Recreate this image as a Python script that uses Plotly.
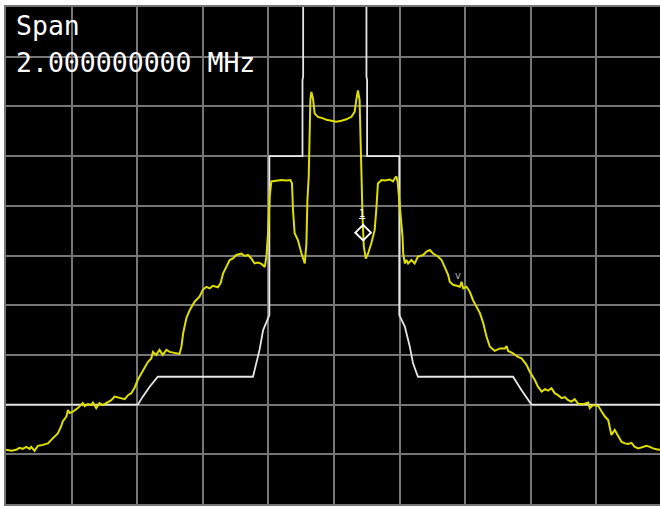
import plotly.graph_objects as go

# Frequency offset from centre (kHz), span 2 MHz -> 200 kHz/div
freq_khz = [-1000, -984, -969, -959, -949, -938, -928, -923, -913, -903, -893, -882, -872, -862, -852, -842,
            -832, -827, -816, -811, -806, -796, -781, -766, -760, -750, -740, -735, -725, -715, -705, -694,
            -679, -669, -654, -638, -628, -618, -608, -598, -587, -577, -567, -557, -552, -542, -532, -522,
            -511, -501, -486, -471, -465, -460, -450, -440, -425, -410, -400, -389, -379, -369, -354, -346,
            -338, -328, -318, -308, -298, -282, -272, -262, -252, -242, -232, -221, -211, -206, -201, -196,
            -191, -171, -160, -145, -133, -128, -125, -120, -110, -99, -89, -84, -81, -77, -74, -72,
            -69, -64, -59, -49, -33, -23, -8, 7, 23, 38, 53, 63, 68, 73, 78, 81,
            84, 87, 91, 97, 104, 114, 124, 129, 134, 145, 155, 170, 180, 185, 190, 194,
            198, 203, 209, 211, 216, 221, 226, 236, 246, 256, 272, 282, 292, 302, 317, 328,
            338, 348, 353, 363, 374, 384, 389, 394, 404, 414, 424, 436, 445, 455, 465, 475,
            490, 506, 521, 526, 531, 546, 561, 572, 587, 597, 612, 622, 633, 643, 653, 663,
            673, 683, 694, 704, 714, 724, 734, 745, 760, 775, 780, 790, 806, 816, 826, 836,
            846, 856, 867, 877, 887, 897, 907, 917, 928, 943, 953, 963, 973, 989, 1000]
level_db = [-89.1, -89.3, -89.1, -88.7, -88.9, -88.5, -88.9, -88.5, -89.3, -88.3, -88.2, -88.0, -87.8, -87.1, -86.5, -85.8,
            -84.4, -83.4, -82.4, -81.1, -81.7, -81.4, -80.7, -79.7, -80.3, -79.9, -80.1, -79.6, -80.7, -79.7, -80.1, -79.7,
            -79.1, -78.4, -78.7, -78.9, -78.1, -77.7, -76.6, -75.0, -73.7, -72.4, -71.4, -70.7, -69.4, -70.0, -69.0, -70.0,
            -69.0, -69.4, -69.6, -69.8, -68.3, -65.7, -62.6, -61.0, -59.3, -58.3, -56.9, -56.3, -56.6, -56.1, -56.4, -55.6,
            -53.6, -52.3, -50.9, -50.6, -49.9, -49.6, -50.1, -49.9, -50.6, -51.6, -51.4, -51.7, -52.3, -50.2, -45.5, -38.2,
            -35.1, -34.9, -34.8, -34.9, -34.8, -35.5, -40.8, -45.5, -46.9, -49.6, -51.6, -47.5, -38.8, -34.1, -26.8, -18.7,
            -17.1, -18.4, -21.4, -22.1, -22.4, -22.7, -22.9, -23.1, -22.9, -22.6, -22.1, -21.1, -18.7, -16.8, -18.7, -24.7,
            -34.1, -42.2, -48.2, -50.6, -49.6, -47.5, -44.9, -40.8, -35.5, -34.8, -34.9, -34.7, -35.1, -34.5, -34.1, -35.1,
            -38.2, -42.2, -46.2, -49.6, -51.6, -50.9, -51.6, -50.9, -51.6, -50.2, -49.9, -49.2, -48.9, -49.6, -50.2, -50.9,
            -52.6, -53.9, -55.3, -55.9, -56.1, -56.3, -55.3, -56.6, -56.3, -57.3, -59.0, -60.6, -61.6, -63.6, -66.3, -68.3,
            -69.2, -68.7, -68.7, -68.2, -69.2, -69.7, -70.4, -70.7, -72.0, -73.4, -75.0, -76.4, -77.4, -76.9, -77.2, -76.7,
            -77.7, -78.1, -78.7, -78.5, -79.1, -79.4, -78.9, -79.9, -79.9, -79.6, -80.7, -80.1, -80.3, -81.4, -82.4, -83.1,
            -86.1, -85.1, -86.5, -87.5, -87.8, -87.9, -87.7, -88.5, -88.8, -88.5, -88.3, -88.5, -88.8, -89.1, -89.0]

# Limit mask
mask_freq = [-1000, -598, -583, -562, -537, -247, -237, -227, -216, -198, -197, -197, -96, -96, -94, -94,
             99, 99, 101, 101, 199, 199, 216, 231, 241, 256, 546, 572, 602, 1000]
mask_db = [-80, -80, -78.4, -76.4, -74.4, -74.4, -71.7, -69, -65, -62.3, -62, -30, -30, -14.7, -14, 10,
           10, -14, -14.7, -30, -30, -62, -64.3, -68.3, -71.7, -74.4, -74.4, -77.1, -80, -80]

marker_freq = [89]
marker_db = [-45.4]
delta_freq = [378]
delta_db = [-54.3]

span_label = "Span"
span_value = "2.000000000 MHz"

fig = go.Figure()
fig.add_trace(go.Scatter(x=mask_freq, y=mask_db, mode="lines",
                         line=dict(color="#e6e6e6", width=1.8), hoverinfo="skip"))
fig.add_trace(go.Scatter(x=freq_khz, y=level_db, mode="lines",
                         line=dict(color="#dede00", width=2), hoverinfo="skip"))
fig.add_trace(go.Scatter(x=marker_freq, y=marker_db, mode="markers",
                         marker=dict(symbol="diamond-open", size=12, color="white",
                                     line=dict(color="white", width=2)), hoverinfo="skip"))
fig.add_trace(go.Scatter(x=delta_freq, y=delta_db, mode="text", text=["v"],
                         textfont=dict(color="#b0b0b0", size=10, family="DejaVu Sans"),
                         hoverinfo="skip"))

fig.add_annotation(x=marker_freq[0], y=marker_db[0], xref="x", yref="y", text="<u>1</u>",
                   showarrow=False, yshift=19, xshift=-1,
                   font=dict(color="white", size=10, family="DejaVu Sans"))
fig.add_annotation(x=0, y=1, xref="paper", yref="paper", xanchor="left", yanchor="top",
                   text=span_label, align="left", showarrow=False,
                   xshift=8, yshift=-1,
                   font=dict(color="white", size=26.5, family="DejaVu Sans Mono"))
fig.add_annotation(x=0, y=1, xref="paper", yref="paper", xanchor="left", yanchor="top",
                   text=span_value, align="left", showarrow=False,
                   xshift=8, yshift=-38,
                   font=dict(color="white", size=26.5, family="DejaVu Sans Mono"))

fig.update_xaxes(range=[-1000, 994], dtick=200, tick0=-1000, showgrid=True, gridcolor="#767676",
                 gridwidth=2, zeroline=False, showticklabels=False, ticks="",
                 showline=True, linecolor="#767676", linewidth=2, mirror=True)
fig.update_yaxes(range=[-100, 0], dtick=10, tick0=0, showgrid=True, gridcolor="#767676",
                 gridwidth=2, zeroline=False, showticklabels=False, ticks="",
                 showline=True, linecolor="#767676", linewidth=2, mirror=False)

fig.update_layout(width=660, height=506, margin=dict(l=6, r=0, t=7, b=2),
                  paper_bgcolor="white", plot_bgcolor="black", showlegend=False)

fig.write_html("out.html")
